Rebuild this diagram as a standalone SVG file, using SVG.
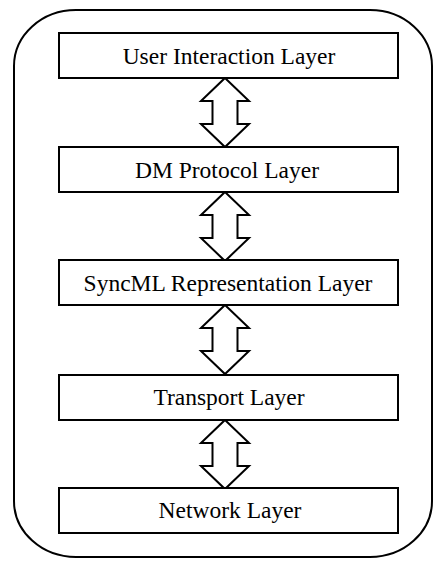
<svg xmlns="http://www.w3.org/2000/svg" width="435" height="564" viewBox="0 0 435 564">
  <style>
    .frame { fill: none; stroke: #000; stroke-width: 2; }
    .layer rect { fill: #fff; stroke: #000; stroke-width: 2; }
    .layer text { font-family: 'Liberation Serif', 'Times New Roman', Times, serif; font-size: 23.5px; fill: #000; text-anchor: middle; }
    .link { fill: #fff; stroke: #000; stroke-width: 2; stroke-linejoin: miter; }
  </style>
  <defs>
    <!-- double-headed block arrow, 69 tall, centred on x=0, top tip at y=0 -->
    <path id="dbl" d="M0 0 L24 23 L12.5 23 L12.5 46 L24 46 L0 69 L-24 46 L-12.5 46 L-12.5 23 L-24 23 Z"/>
  </defs>

  <rect class="frame" x="14" y="10" width="418" height="547" rx="62" ry="56"/>

  <g id="connectors">
    <use href="#dbl" class="link" x="225" y="78"/>
    <use href="#dbl" class="link" x="225" y="192"/>
    <use href="#dbl" class="link" x="225" y="305"/>
    <use href="#dbl" class="link" x="225" y="420"/>
  </g>

  <g id="user-interaction" class="layer">
    <rect x="59" y="33" width="339" height="45"/>
    <text x="229" y="64">User Interaction Layer</text>
  </g>
  <g id="dm-protocol" class="layer">
    <rect x="59" y="147" width="339" height="45"/>
    <text x="227" y="178">DM Protocol Layer</text>
  </g>
  <g id="syncml-representation" class="layer">
    <rect x="59" y="260" width="339" height="45"/>
    <text x="228" y="291">SyncML Representation Layer</text>
  </g>
  <g id="transport" class="layer">
    <rect x="59" y="375" width="339" height="45"/>
    <text x="229" y="405">Transport Layer</text>
  </g>
  <g id="network" class="layer">
    <rect x="59" y="488" width="339" height="45"/>
    <text x="230" y="518">Network Layer</text>
  </g>
</svg>
